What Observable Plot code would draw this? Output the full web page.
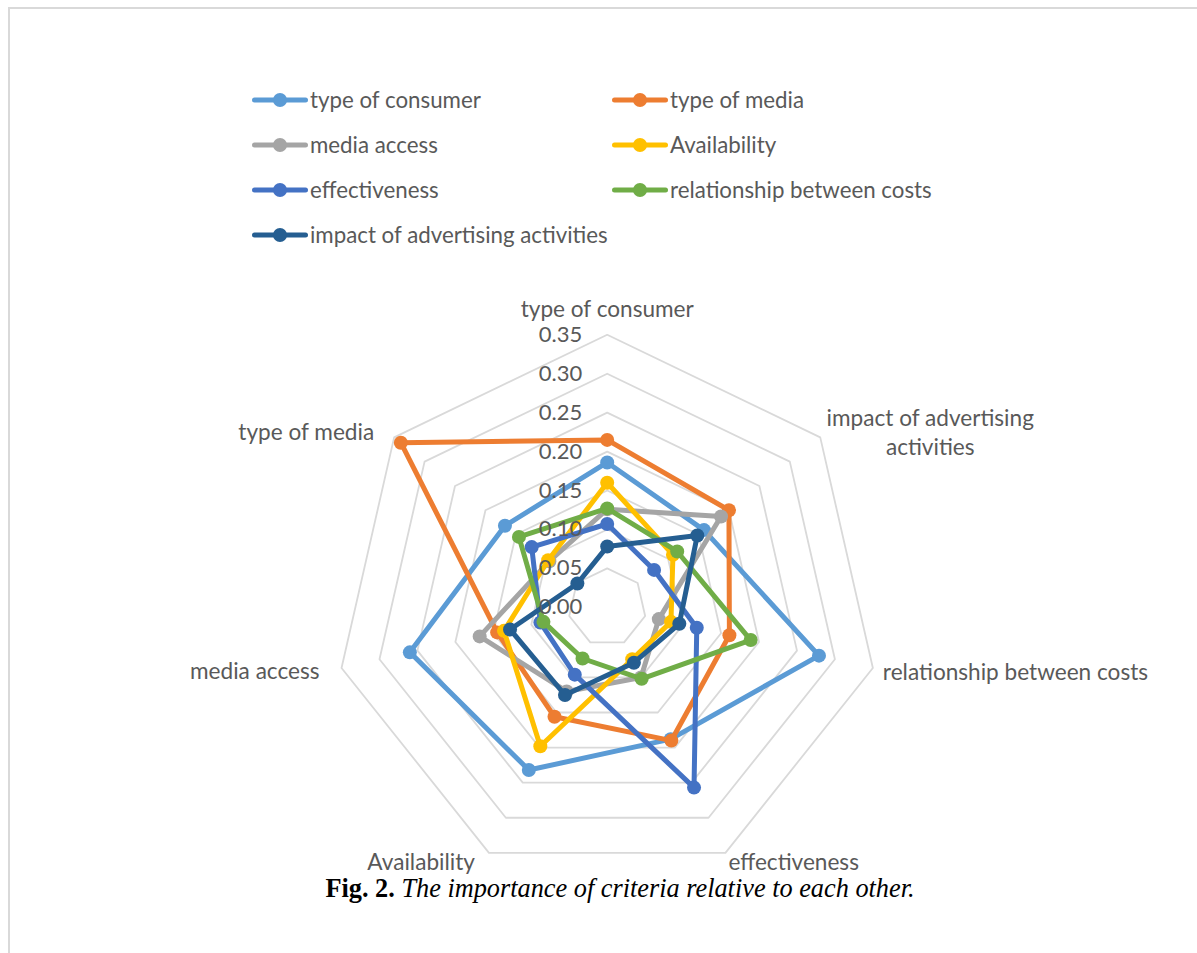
<!DOCTYPE html>
<html>
<head>
<meta charset="utf-8">
<script src="https://cdn.jsdelivr.net/npm/d3@7"></script>
<script src="https://cdn.jsdelivr.net/npm/@observablehq/plot@0.6"></script>
<style>
  html, body { margin: 0; padding: 0; background: #fff; }
  body { width: 1197px; height: 953px; position: relative; overflow: hidden; }
  #frame { position: absolute; left: 8px; top: 7px; width: 1200px; height: 960px;
           border-left: 2px solid #D9D9D9; border-top: 2px solid #D9D9D9; z-index: 10; pointer-events: none; }
  #legend { position: absolute; left: 252px; top: 77px; display: grid;
            grid-template-columns: 360px auto; grid-auto-rows: 45px;
            font-family: Lato, sans-serif; font-size: 22.3px; color: #595959; }
  .item { display: flex; align-items: center; white-space: nowrap; }
  .item svg { margin-right: 2px; flex: none; }
  #chart { position: absolute; left: 0; top: 280px; }
  #caption { position: absolute; left: 0; width: 1240px; top: 876px; text-align: center; line-height: 26px;
             font-family: "Liberation Serif", "Times New Roman", serif; font-size: 26.3px; color: #000; }
</style>
</head>
<body>
<div id="frame"></div>
<div id="legend"></div>
<div id="chart"></div>
<div id="caption"><b>Fig. 2.</b> <i>The importance of criteria relative to each other.</i></div>
<script>
// ---- data ----
const axes = ["type of consumer", "impact of advertising activities", "relationship between costs",
              "effectiveness", "Availability", "media access", "type of media"];
const seriesNames = ["type of consumer", "type of media", "media access", "Availability",
                     "effectiveness", "relationship between costs", "impact of advertising activities"];
const colors = ["#5B9BD5", "#ED7D31", "#A5A5A5", "#FFC000", "#4472C4", "#70AD47", "#255E91"];
const typeOfConsumer    = [0.186, 0.159, 0.279, 0.188, 0.232, 0.260, 0.168];
const typeOfMedia       = [0.215, 0.200, 0.161, 0.190, 0.156, 0.145, 0.339];
const mediaAccess       = [0.126, 0.187, 0.068, 0.100, 0.120, 0.168, 0.095];
const availability      = [0.160, 0.108, 0.084, 0.074, 0.198, 0.136, 0.097];
const effectiveness     = [0.107, 0.077, 0.118, 0.257, 0.096, 0.088, 0.124];
const relationshipCosts = [0.127, 0.115, 0.189, 0.102, 0.073, 0.084, 0.145];
const impactAdvertising = [0.078, 0.148, 0.095, 0.079, 0.125, 0.128, 0.049];
const tickValues = [0.00, 0.05, 0.10, 0.15, 0.20, 0.25, 0.30, 0.35];

const seriesValues = [typeOfConsumer, typeOfMedia, mediaAccess, availability,
                      effectiveness, relationshipCosts, impactAdvertising];

// ---- layout ----
const W = 1197, H = 600;
const cx = 606.7, cy = 326.8;        // centre in SVG px
const maxV = 0.35, Rpx = 272.5;      // outer ring radius in px
const angle = i => 2 * Math.PI * i / axes.length;
const px = (v, i) => v * Math.sin(angle(i));
const py = (v, i) => v * Math.cos(angle(i));

const rows = seriesNames.flatMap((s, si) =>
  seriesValues[si].map((v, i) => ({series: s, i, value: v})));
const gridRows = tickValues.slice(1).flatMap(l => axes.map((a, i) => ({level: l, i})));

const labelLayout = [
  {anchor: "middle", dx: 0,   dy: -27},
  {anchor: "middle", dx: 110, dy: -6},
  {anchor: "start",  dx: 10,  dy: 3},
  {anchor: "start",  dx: 3,   dy: 8},
  {anchor: "end",    dx: -14, dy: 8},
  {anchor: "end",    dx: -22, dy: 2},
  {anchor: "end",    dx: -20, dy: -7}
];
const labelText = t => t === "impact of advertising activities" ? "impact of advertising\nactivities" : t;

const marks = [
  Plot.line(gridRows, {x: d => px(d.level, d.i), y: d => py(d.level, d.i), z: "level",
    curve: "linear-closed", stroke: "#D9D9D9", strokeWidth: 1.8})
];
seriesNames.forEach(s => {
  const data = rows.filter(d => d.series === s);
  marks.push(Plot.line(data, {x: d => px(d.value, d.i), y: d => py(d.value, d.i),
    curve: "linear-closed", stroke: "series", strokeWidth: 5, strokeLinejoin: "round"}));
  marks.push(Plot.dot(data, {x: d => px(d.value, d.i), y: d => py(d.value, d.i),
    r: 7, fill: "series", stroke: "none"}));
});
marks.push(Plot.text(tickValues, {x: 0, y: d => d, text: d => d.toFixed(2), textAnchor: "end",
  dx: -25, fontSize: 22, fill: "#595959"}));
axes.forEach((a, i) => {
  const L = labelLayout[i];
  marks.push(Plot.text([a], {x: () => px(maxV, i), y: () => py(maxV, i), text: d => labelText(d),
    textAnchor: L.anchor, dx: L.dx, dy: L.dy, fontSize: 22.6, lineHeight: 1.26, fill: "#595959"}));
});

const k = Rpx / maxV;
const chart = Plot.plot({
  width: W, height: H, margin: 0,
  x: {domain: [-maxV, maxV], range: [cx - maxV * k, cx + maxV * k], axis: null},
  y: {domain: [-maxV, maxV], range: [cy + maxV * k, cy - maxV * k], axis: null},
  color: {domain: seriesNames, range: colors},
  style: {fontFamily: "Lato, sans-serif", background: "transparent", overflow: "visible"},
  marks
});
document.getElementById("chart").appendChild(chart);

// ---- legend ----
const legend = document.getElementById("legend");
seriesNames.forEach((s, si) => {
  const item = document.createElement("div");
  item.className = "item";
  item.innerHTML = `<svg width="56" height="16"><line x1="2.5" x2="53.5" y1="8" y2="8" stroke="${colors[si]}" stroke-width="5" stroke-linecap="round"/><circle cx="28" cy="8" r="7" fill="${colors[si]}"/></svg><span>${s}</span>`;
  legend.appendChild(item);
});
</script>
</body>
</html>
